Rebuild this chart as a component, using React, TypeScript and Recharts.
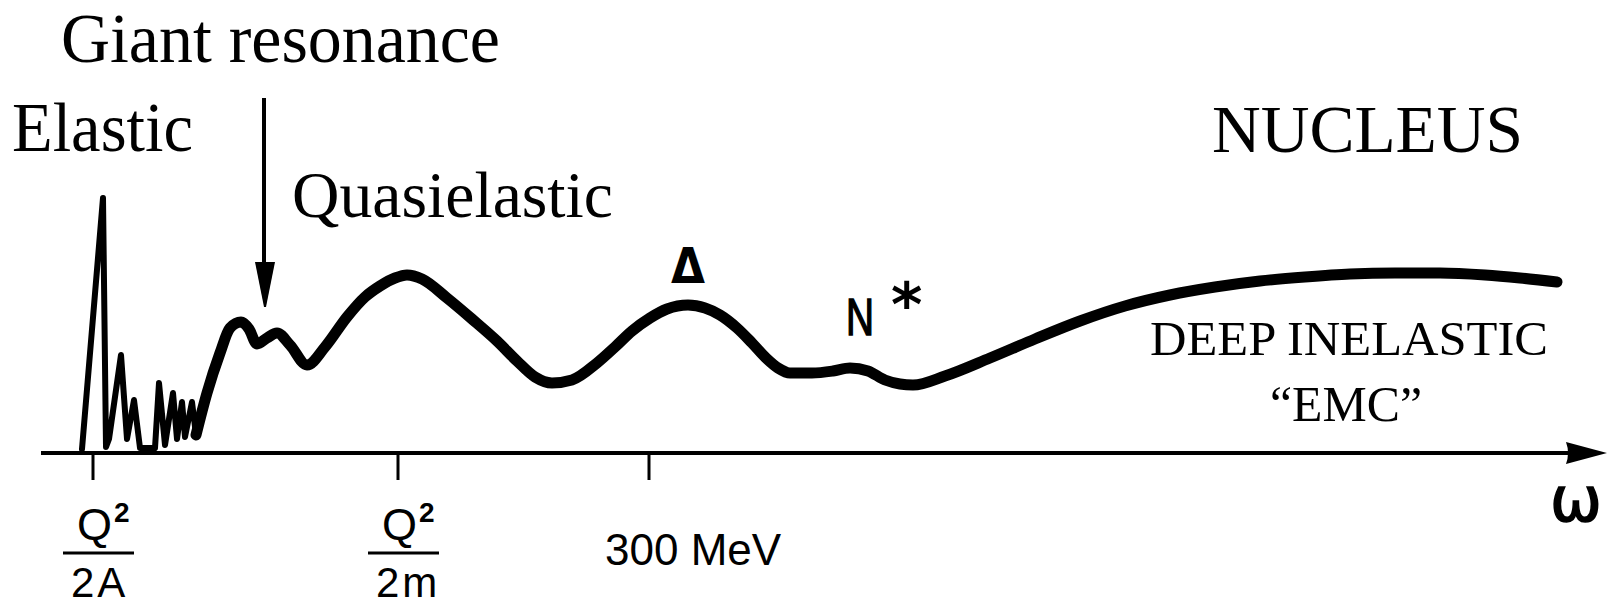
import { LineChart, Line, XAxis, YAxis, Customized } from "recharts";

// omega in drawing units, strength above the axis
const elasticRegion = [
  { w: 82, s: 4 },
  { w: 103, s: 255 },
  { w: 106, s: 6 },
  { w: 109, s: 14 },
  { w: 121, s: 98 },
  { w: 127, s: 14 },
  { w: 134, s: 53 },
  { w: 140, s: 5 },
  { w: 155, s: 5 },
  { w: 159, s: 70 },
  { w: 165, s: 8 },
  { w: 173, s: 60 },
  { w: 177, s: 14 },
  { w: 182, s: 51 },
  { w: 185, s: 16 },
  { w: 192, s: 51 },
  { w: 196, s: 18 },
];

const mainCurve = [
  { w: 196, s: 18 },
  { w: 207, s: 60 },
  { w: 220, s: 100 },
  { w: 230, s: 125 },
  { w: 241, s: 131 },
  { w: 249, s: 124 },
  { w: 257, s: 109 },
  { w: 267, s: 115 },
  { w: 277, s: 120 },
  { w: 290, s: 108 },
  { w: 307, s: 88 },
  { w: 325, s: 106 },
  { w: 347, s: 136 },
  { w: 365, s: 156 },
  { w: 380, s: 167 },
  { w: 395, s: 175 },
  { w: 407, s: 178 },
  { w: 422, s: 174 },
  { w: 447, s: 155 },
  { w: 472, s: 134 },
  { w: 497, s: 112 },
  { w: 517, s: 92 },
  { w: 535, s: 76 },
  { w: 552, s: 70 },
  { w: 572, s: 73 },
  { w: 597, s: 90 },
  { w: 615, s: 106 },
  { w: 632, s: 122 },
  { w: 650, s: 135 },
  { w: 667, s: 144 },
  { w: 688, s: 148 },
  { w: 705, s: 145 },
  { w: 720, s: 138 },
  { w: 737, s: 125 },
  { w: 752, s: 110 },
  { w: 766, s: 95 },
  { w: 778, s: 85 },
  { w: 790, s: 80 },
  { w: 812, s: 80 },
  { w: 833, s: 82 },
  { w: 850, s: 85 },
  { w: 868, s: 82 },
  { w: 885, s: 73 },
  { w: 900, s: 69 },
  { w: 913, s: 68 },
  { w: 945, s: 77 },
  { w: 990, s: 95 },
  { w: 1035, s: 114 },
  { w: 1080, s: 132 },
  { w: 1125, s: 147 },
  { w: 1170, s: 158 },
  { w: 1215, s: 166 },
  { w: 1260, s: 172 },
  { w: 1305, s: 176 },
  { w: 1350, s: 179 },
  { w: 1395, s: 180 },
  { w: 1440, s: 180 },
  { w: 1485, s: 178 },
  { w: 1520, s: 175 },
  { w: 1557, s: 171 },
];

const tickValues = [93, 398, 649];
const tickDenominators = ["2A", "2m"];
const plainTickLabel = "300 MeV";

const W = 1608;
const H = 607;
const AXIS_Y = 453;
const SANS = "'Liberation Sans', Arial, sans-serif";
const SERIF = "'Liberation Serif', 'Times New Roman', serif";

function OmegaTick({ x, index }: any) {
  const cx = x;
  const mark = (
    <line x1={cx} y1={AXIS_Y} x2={cx} y2={AXIS_Y + 27} stroke="#000" strokeWidth={3} />
  );
  if (index < tickDenominators.length) {
    return (
      <g>
        {mark}
        <text x={cx - 16} y={540} fontFamily={SANS} fontSize={45} fill="#000">Q</text>
        <text x={cx + 21} y={522} fontFamily={SANS} fontSize={28} fontWeight="bold" fill="#000">2</text>
        <line x1={cx - 30} y1={553} x2={cx + 41} y2={553} stroke="#000" strokeWidth={3} />
        <text x={cx - 22} y={597} fontFamily={SANS} fontSize={42} letterSpacing={3} fill="#000">
          {tickDenominators[index]}
        </text>
      </g>
    );
  }
  return (
    <g>
      {mark}
      <text x={cx - 44} y={565} fontFamily={SANS} fontSize={44} fill="#000">
        {plainTickLabel}
      </text>
    </g>
  );
}

function Annotations() {
  return (
    <g>
      {/* omega axis with arrow */}
      <line x1={41} y1={AXIS_Y} x2={1572} y2={AXIS_Y} stroke="#000" strokeWidth={4} />
      <path d="M1566,442 L1607,453 L1566,464 Q1570,453 1566,442 Z" fill="#000" />
      <text x={1550} y={521} fontFamily="'DejaVu Sans', sans-serif" fontSize={62} fill="#000" stroke="#000" strokeWidth={1.5}>ω</text>

      {/* giant resonance pointer */}
      <line x1={264} y1={98} x2={264} y2={268} stroke="#000" strokeWidth={4} />
      <path d="M255,262 L275,262 L266,307 L264,307 Z" fill="#000" />

      <text x={61} y={62} fontFamily={SERIF} fontSize={70} textLength={439} lengthAdjust="spacingAndGlyphs">Giant resonance</text>
      <text x={12} y={151} fontFamily={SERIF} fontSize={70} textLength={181} lengthAdjust="spacingAndGlyphs">Elastic</text>
      <text x={292} y={217} fontFamily={SERIF} fontSize={66} textLength={321} lengthAdjust="spacingAndGlyphs">Quasielastic</text>
      <text x={1212} y={152} fontFamily={SERIF} fontSize={67} textLength={311} lengthAdjust="spacingAndGlyphs">NUCLEUS</text>
      <text x={1150} y={355} fontFamily={SERIF} fontSize={49} textLength={398} lengthAdjust="spacingAndGlyphs">DEEP INELASTIC</text>
      <text x={1270} y={421} fontFamily={SERIF} fontSize={50} textLength={152} lengthAdjust="spacingAndGlyphs">“EMC”</text>

      <text x={671} y={283} fontFamily="'DejaVu Sans', sans-serif" fontWeight="bold" fontSize={50} textLength={34} lengthAdjust="spacingAndGlyphs">Δ</text>
      <text x={846} y={335} fontFamily={SANS} fontSize={51} textLength={28} lengthAdjust="spacingAndGlyphs" stroke="#000" strokeWidth={1.5}>N</text>
      <text x={891} y={326} fontFamily="'DejaVu Sans', sans-serif" fontWeight="bold" fontSize={60}>*</text>
    </g>
  );
}

export default function App() {
  return (
    <div style={{ position: "absolute", left: 0, top: 0, width: W, height: H, background: "#fff" }}>
      <LineChart width={W} height={H} margin={{ top: 0, right: 0, bottom: 0, left: 0 }}>
        <XAxis
          type="number"
          dataKey="w"
          domain={[0, W]}
          allowDataOverflow
          ticks={tickValues}
          height={H - AXIS_Y}
          axisLine={false}
          tickLine={false}
          tick={<OmegaTick />}
          interval={0}
        />
        <YAxis type="number" domain={[0, AXIS_Y]} hide allowDataOverflow />
        <Line
          data={elasticRegion}
          dataKey="s"
          type="linear"
          stroke="#000"
          strokeWidth={6}
          strokeLinejoin="round"
          strokeLinecap="round"
          dot={false}
          activeDot={false}
          isAnimationActive={false}
        />
        <Line
          data={mainCurve}
          dataKey="s"
          type="monotone"
          stroke="#000"
          strokeWidth={11}
          strokeLinejoin="round"
          strokeLinecap="round"
          dot={false}
          activeDot={false}
          isAnimationActive={false}
        />
        <Customized component={Annotations} />
      </LineChart>
    </div>
  );
}
